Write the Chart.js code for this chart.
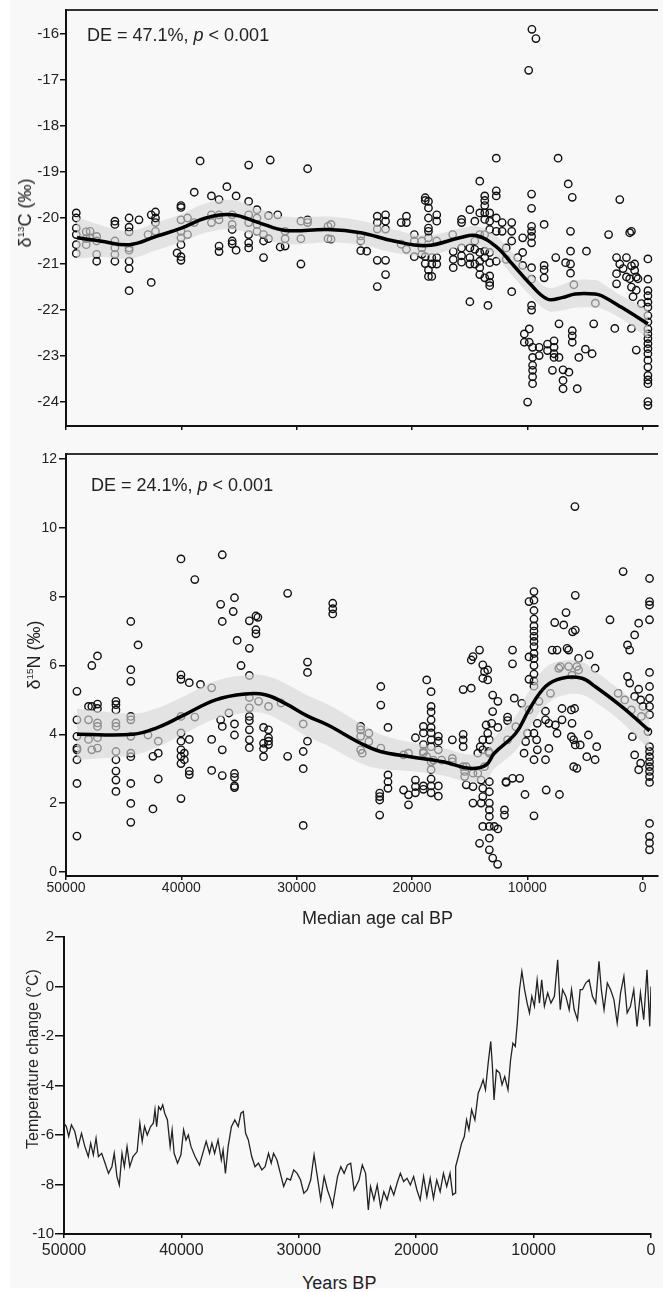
<!DOCTYPE html>
<html>
<head>
<meta charset="utf-8">
<script src="https://cdn.jsdelivr.net/npm/chart.js@4.4.1/dist/chart.umd.min.js"></script>
<style>
  body { margin: 0; width: 663px; height: 1292px; overflow: hidden; position: relative; background: #fff;
         font-family: "Liberation Sans", Arial, Helvetica, sans-serif; color: #222; }
  #bg { position: absolute; left: 10px; top: 0; width: 653px; height: 1288px; background: #f8f8f8; }
  .box { position: absolute; left: 0; width: 663px; }
  .txt { position: absolute; white-space: nowrap; line-height: 1; }
  .ytitle { position: absolute; white-space: nowrap; line-height: 1; transform: translate(-50%, -50%) rotate(-90deg); }
  sup { font-size: 0.55em; vertical-align: 0.7em; line-height: 0; }
</style>
</head>
<body>
<div id="bg"></div>
<div class="box" style="top:0;height:440px"><canvas id="c13"></canvas></div>
<div class="box" style="top:440px;height:460px"><canvas id="n15"></canvas></div>
<div class="box" style="top:920px;height:340px"><canvas id="temp"></canvas></div>

<div class="txt" style="left:87px;top:26px;font-size:18px">DE = 47.1%, <i>p</i> &lt; 0.001</div>
<div class="txt" style="left:91px;top:476px;font-size:18px">DE = 24.1%, <i>p</i> &lt; 0.001</div>
<div class="ytitle" style="left:25px;top:213px;font-size:18px">δ<sup>13</sup>C (‰)</div>
<div class="ytitle" style="left:34px;top:655px;font-size:18px">δ<sup>15</sup>N (‰)</div>
<div class="ytitle" style="left:33px;top:1059px;font-size:16px">Temperature change (°C)</div>
<div class="txt" style="left:302px;top:909px;font-size:18px">Median age cal BP</div>
<div class="txt" style="left:302px;top:1274px;font-size:18px">Years BP</div>

<script>
// 軸の目盛り
const xTicks = [50000, 40000, 30000, 20000, 10000, 0];
const c13Ticks = [-16, -17, -18, -19, -20, -21, -22, -23, -24];
const n15Ticks = [0, 2, 4, 6, 8, 10, 12];
const tempTicks = [2, 0, -2, -4, -6, -8, -10];

// δ13C: 年代ごとの測定値
const c13Age = [
  49110, 48250, 47910, 47340, 45760, 44530, 43670, 42890, 42610, 42240,
  40370, 40030, 39460, 38880, 38370, 37390, 36730, 36050, 35590, 35250,
  34160, 33440, 32870, 32440, 32290, 31640, 31430, 31000, 29630, 29050,
  27280, 27020, 24440, 23920, 23010, 22290, 20940, 20480, 19800, 19140,
  18850, 18570, 18280, 17850, 16470, 16420, 15700, 14980, 14550, 14120,
  13690, 13410, 13260, 12690, 12180, 11830, 11350, 10830, 10400, 9880,
  9600, 9250, 9630, 10260, 9830, 9540, 9970, 8540, 8970, 8250,
  7680, 7250, 6900, 7820, 6390, 5670, 7530, 7330, 6680, 6250,
  6100, 6450, 5960, 5530, 4960, 4380, 4870, 4240, 4100, 2950,
  2260, 2410, 1980, 1690, 1400, 1120, 970, 830, 690, 550,
  400, 110, -460,
];
const c13Val = [
  [-19.89, -20.0, -20.22, -20.36, -20.58, -20.77], [-20.3, -20.45, -20.58], [-20.29, -20.43],
  [-20.4, -20.5, -20.79, -20.94], [-20.07, -20.14, -20.5, -20.65, -20.79, -20.94],
  [-20.0, -20.2, -20.3, -20.65, -20.7, -20.94, -21.1, -21.58], [-20.04], [-20.36], [-19.93, -21.4],
  [-19.87, -20.0, -20.1, -20.29],

  [-20.76], [-19.73, -19.77, -20.04, -20.29, -20.43, -20.58, -20.84, -20.92], [-20.0, -20.36],
  [-19.44, -20.1], [-18.76], [-19.52, -19.93, -20.1], [-19.6, -19.93, -20.04, -20.61, -20.73],
  [-19.32], [-19.93, -20.14, -20.25, -20.5, -20.56], [-19.52, -20.7],

  [-18.85, -19.64, -19.93, -20.1, -20.36, -20.54, -20.65], [-19.82, -20.0, -20.14, -20.29],
  [-20.36, -20.5, -20.86], [-19.95, -20.45], [-18.74], [-19.93], [-20.63], [-20.29, -20.45, -20.61],
  [-20.07, -20.45, -21.0], [-18.93, -20.04, -20.1],

  [-20.18, -20.45], [-20.14, -20.46], [-20.39, -20.5, -20.71], [-20.72],
  [-19.96, -20.1, -20.24, -20.92, -21.49], [-19.93, -20.07, -20.24, -20.92, -21.23],
  [-20.1, -20.57], [-19.96, -20.1, -20.68], [-20.36, -20.5, -20.84], [-20.5, -20.65, -20.79],

  [-19.56, -19.62, -20.84, -20.99], [-19.64, -19.78, -20.0, -20.22, -20.29, -20.43, -21.13, -21.27],
  [-20.86, -21.0, -21.27], [-19.93, -20.07, -20.5, -20.86, -21.0], [-20.36], [-20.73, -20.9, -21.08],
  [-20.03, -20.1, -20.65, -20.82, -20.96], [-19.82, -20.65, -20.86, -21.0, -21.82],
  [-20.07, -20.5, -20.68, -21.0], [-19.2, -19.89, -20.36, -20.75, -20.94, -21.08, -21.23],

  [-19.52, -19.62, -19.73, -19.89, -20.03, -20.36, -20.72, -20.86, -21.3], [-21.9],
  [-19.89, -20.07, -20.25, -20.75, -20.97, -21.26, -21.4, -21.47],
  [-18.7, -19.41, -19.52, -20.0, -20.29, -20.94], [-20.1, -20.29], [-20.65, -20.9],
  [-20.1, -20.29, -20.5, -21.6], [-20.86], [-20.43, -20.75, -21.03], [-16.79],

  [-15.9], [-16.1], [-19.48, -19.79, -20.18, -20.29, -20.4, -20.54, -21.08, -21.33, -21.9, -22.0],
  [-22.52, -22.7], [-22.41, -22.7], [-22.81, -23.03, -23.2, -23.31, -23.45, -23.6], [-24.0],
  [-20.14, -21.03, -21.13, -21.3], [-22.81, -22.99], [-22.74, -22.88],

  [-22.67, -22.81, -22.95, -23.03], [-22.3, -23.03], [-23.3, -23.53, -23.71], [-23.31], [-23.35],
  [-23.71], [-20.86], [-18.7], [-20.97], [-20.29, -20.72, -21.0, -21.2],

  [-19.55, -22.45, -22.56, -22.7], [-19.26], [-21.45], [-23.03], [-22.85], [-22.95], [-20.72],
  [-22.3], [-21.85], [-20.36],

  [-20.86, -21.21, -21.43], [-22.4], [-19.6, -21.0], [-21.1], [-20.86, -21.28], [-20.32, -21.32],
  [-20.29, -21.04, -21.5, -22.4], [-21.71], [-21.0, -21.14], [-21.28, -21.57, -22.87],

  [-21.32], [-21.86],
  [-20.89, -21.33, -21.58, -21.69, -21.83, -21.94, -22.12, -22.26, -22.41, -22.52, -22.62,
   -22.73, -22.84, -22.95, -23.09, -23.24, -23.42, -23.52, -23.6, -23.99, -24.07],
];

// δ13C: 平滑曲線と信頼区間
const c13FitAge = [49050, 47050, 44470, 42180, 40000, 37880, 35590, 33300, 31000, 27300, 24440, 21570, 18710,
  15860, 14430, 12700, 11300, 9870, 8270, 6990, 5840, 4120, 3550, 1830, -460];
const c13Fit = [-20.43, -20.5, -20.58, -20.4, -20.22, -20.0, -19.93, -20.1, -20.27, -20.25, -20.32, -20.5, -20.6,
  -20.43, -20.38, -20.62, -21.0, -21.4, -21.76, -21.73, -21.65, -21.65, -21.69, -21.94, -22.3];
const c13Upper = [-19.98, -20.15, -20.28, -20.1, -19.92, -19.68, -19.61, -19.8, -19.97, -19.97, -20.06, -20.25, -20.38,
  -20.23, -20.18, -20.4, -20.75, -21.15, -21.51, -21.45, -21.35, -21.35, -21.41, -21.69, -21.98];
const c13Lower = [-20.88, -20.85, -20.88, -20.7, -20.52, -20.32, -20.25, -20.4, -20.57, -20.53, -20.58, -20.75, -20.82,
  -20.63, -20.58, -20.84, -21.25, -21.65, -22.01, -22.01, -21.95, -21.95, -21.97, -22.19, -22.62];

// δ15N: 年代ごとの測定値
const n15Age = [
  49050, 48050, 47760, 47270, 45670, 44380, 43750, 42890, 42460, 42000,
  40030, 39740, 39310, 38830, 38340, 37370, 36590, 36450, 35870, 35500,
  35390, 35160, 34820, 34100, 33530, 33360, 33300, 32870, 32440, 31350,
  30780, 29430, 29060, 26870, 24450, 24310, 23740, 22700, 22080, 22800,
  20730, 20300, 19700, 19010, 18720, 18340, 18140, 17710, 17430, 16500,
  15560, 15430, 15290, 14860, 14710, 14290, 14140, 14080, 14000, 13860,
  13710, 13570, 13430, 13340, 13290, 13090, 13000, 12860, 12570, 12550,
  11980, 11830, 11850, 11710, 11280, 11130, 10990, 10660, 10480, 10280,
  10200, 10140, 9990, 9850, 9420, 9190, 9130, 8990, 8420, 8360,
  8130, 7990, 7840, 7620, 7560, 7420, 7270, 7210, 7130, 6990,
  6840, 6640, 6550, 6410, 6180, 6130, 6120, 6070, 5980, 5900,
  5870, 5840, 5700, 5550, 5410, 4840, 4700, 4640, 4120, 3980,
  2830, 2120, 1690, 1550, 1310, 1120, 980, 890, 690, 340,
  170, 110, -30, -460, -600,
];
const n15Val = [
  [5.25, 4.42, 3.94, 3.6, 3.55, 3.26, 2.57, 1.04], [4.81, 4.42, 3.85], [6.0, 4.81, 3.55],
  [6.28, 4.88, 4.75, 4.33, 4.23, 3.9, 3.6], [4.96, 4.86, 4.71, 4.33, 4.23, 3.5, 3.26, 2.93, 2.67, 2.34],
  [7.28, 5.88, 5.54, 4.52, 4.42, 3.94, 3.45, 3.35, 2.57, 1.99, 1.44], [6.6], [3.98], [3.36, 1.83],
  [3.8, 3.45, 2.7],

  [9.1, 5.73, 5.6, 4.52, 4.04, 3.8, 3.55, 3.36, 3.15, 2.13], [3.45, 3.26], [5.5, 3.85, 2.93, 2.83],
  [8.5, 4.5], [5.45], [5.35, 3.85, 2.95], [7.78, 4.42], [9.22, 7.28, 4.23, 3.55, 2.8], [4.62], [7.57],

  [7.97, 4.3, 3.98, 2.86, 2.75, 2.5, 2.45], [6.73], [6.0], [7.3, 6.5, 5.71, 5.07, 4.77, 4.52, 4.4, 4.13, 3.84, 3.61],
  [7.44, 7.04, 6.92], [7.4], [4.96], [4.2, 3.74, 3.58, 3.35], [4.81, 4.13, 3.9, 3.8, 3.7], [4.91],

  [8.1, 3.36], [4.3, 3.5, 3.0, 1.35], [6.1, 5.8, 3.8], [7.81, 7.65, 7.5], [4.23, 4.13, 3.94, 3.55], [3.45],
  [4.03, 3.79], [5.39, 4.85, 3.6], [4.2, 2.82, 2.62, 2.43], [2.29, 2.19, 2.09, 1.65],

  [3.4, 2.38], [3.45, 2.24, 1.95], [3.9, 2.67, 2.48, 2.3], [4.23, 4.04, 3.7, 3.5, 3.45, 2.5, 2.4], [5.58, 3.35],
  [5.24, 4.81, 4.65, 4.42, 4.2, 4.04, 3.84, 3.64, 3.2, 2.97, 2.7, 2.5, 2.3], [3.25], [3.94, 3.8, 3.55, 2.5, 2.2],
  [3.25], [3.84, 3.3, 3.2],

  [5.3, 4.0, 3.84, 3.64, 3.06], [2.92, 2.77], [3.06, 2.53], [6.16, 5.34], [6.26, 2.87, 2.48, 2.0], [3.45, 2.87],
  [6.45, 0.83], [3.64], [2.67, 2.0], [6.02, 5.63, 3.84, 3.55, 2.43, 2.19, 1.32],

  [5.82, 3.06], [4.27], [5.87, 5.58, 4.03], [3.5], [3.84, 3.45, 2.62, 2.33, 2.0, 1.8, 1.61, 1.32, 0.98, 0.64],
  [4.32], [5.14, 4.66, 0.4], [1.32], [0.22], [4.96, 4.2, 1.25],

  [1.8, 1.65], [2.6], [2.62], [4.5, 4.4, 3.84], [6.45, 6.05, 2.72], [5.05], [4.22], [2.72], [4.9], [3.45],

  [2.25], [3.79], [4.03], [7.86, 6.25, 5.6, 4.71],
  [8.15, 7.9, 7.6, 7.35, 7.15, 7.0, 6.85, 6.7, 6.55, 6.35, 6.2, 6.0, 5.75, 5.55, 5.4, 4.03, 3.26, 1.63],
  [3.84], [4.32, 3.55], [4.96], [4.67, 4.42, 3.26], [2.38],

  [4.32, 3.59], [5.19], [6.45], [7.25], [4.27], [6.45, 4.03], [5.92], [2.25], [5.97], [4.75, 4.42],

  [7.18], [7.54], [6.5], [6.45, 5.97], [4.71, 3.93], [5.72], [4.32], [6.98], [3.84, 3.06], [4.75],

  [10.62], [8.04, 7.03, 3.69], [5.97, 3.01], [6.21, 5.87], [3.69], [3.35], [3.98], [6.31], [5.92, 3.26], [3.64],

  [7.33], [5.19], [8.73], [5.0], [6.6, 5.68], [6.45, 5.49], [4.71], [3.93], [6.89, 5.1, 3.4], [7.23, 5.31, 2.97],

  [5.0, 3.16], [4.52], [4.81], [4.08],
  [8.53, 7.86, 7.76, 7.33, 5.8, 5.39, 5.05, 4.81, 4.57, 3.64, 3.5, 3.35, 3.2, 3.06, 2.92, 2.77, 2.6, 1.41, 1.03, 0.84, 0.64],
];

// δ15N: 平滑曲線と信頼区間
const n15FitAge = [49050, 44180, 42180, 40000, 37020, 34440, 32720, 31000, 29000, 27300, 24450, 22740, 20150,
  17290, 15000, 13570, 12860, 11000, 9850, 8420, 6990, 5270, 4120, 1830, -600];
const n15Fit = [4.0, 4.0, 4.18, 4.52, 5.0, 5.17, 5.15, 4.9, 4.52, 4.27, 3.74, 3.5, 3.35,
  3.2, 3.01, 3.11, 3.45, 4.03, 4.71, 5.39, 5.63, 5.63, 5.39, 4.81, 4.1];
const n15Upper = [4.75, 4.6, 4.75, 5.07, 5.55, 5.72, 5.7, 5.48, 5.12, 4.87, 4.32, 4.0, 3.77,
  3.6, 3.41, 3.53, 3.9, 4.53, 5.26, 5.94, 6.13, 6.11, 5.84, 5.26, 4.65];
const n15Lower = [3.25, 3.4, 3.61, 3.97, 4.45, 4.62, 4.6, 4.32, 3.92, 3.67, 3.16, 3.0, 2.93,
  2.8, 2.61, 2.69, 3.0, 3.53, 4.16, 4.84, 5.13, 5.15, 4.94, 4.36, 3.55];

// 気温変化
const tempAge = [
  50000, 49800, 49600, 49370, 49080, 48800, 48510, 48220, 47930, 47730,
  47500, 47270, 47070, 46790, 46500, 46210, 45920, 45720, 45490, 45290,
  45060, 44860, 44630, 44400, 44120, 43770, 43540, 43340, 43140, 42910,
  42620, 42390, 42250, 42110, 41940, 41760, 41590, 41420, 41190, 40960,
  40790, 40620, 40330, 40040, 39810, 39610, 39410, 39180, 38840, 38460,
  38180, 37890, 37600, 37400, 37170, 36880, 36600, 36450, 36250, 36020,
  35740, 35450, 35160, 34930, 34730, 34530, 34300, 34010, 33730, 33440,
  33150, 32870, 32580, 32350, 32150, 31860, 31570, 31290, 31000, 30710,
  30430, 30140, 29850, 29570, 29280, 28990, 28700, 28420, 28130, 27840,
  27560, 27270, 27130, 26700, 26420, 26140, 25860, 25580, 25290, 24870,
  24590, 24310, 24080, 23890, 23600, 23320, 23040, 22760, 22480, 22190,
  21910, 21630, 21350, 21070, 20780, 20500, 20220, 19940, 19660, 19370,
  19090, 18810, 18530, 18250, 17960, 17680, 17400, 17120, 16890, 16690,
  16640, 16410, 16130, 15900, 15710, 15510, 15280, 15000, 14720, 14490,
  14300, 14100, 13870, 13650, 13510, 13370, 13170, 12890, 12690, 12460,
  12180, 11960, 11760, 11560, 11390, 11200, 11000, 10770, 10550, 10350,
  10150, 9930, 9700, 9500, 9310, 9080, 8800, 8520, 8230, 7950,
  7730, 7530, 7250, 6970, 6770, 6540, 6260, 6030, 5840, 5560,
  5270, 4990, 4710, 4430, 4230, 4000, 3720, 3440, 3160, 2880,
  2590, 2310, 2030, 1750, 1470, 1190, 900, 620, 340, 110, 0,
];
const tempValue = [
  -5.52, -5.66, -6.06, -5.59, -5.86, -6.47, -5.93, -6.47, -6.87, -6.33,
  -6.80, -6.13, -6.87, -6.74, -7.14, -7.55, -7.28, -6.74, -7.68, -8.02,
  -6.74, -7.28, -6.47, -7.28, -6.87, -6.67, -5.52, -6.26, -5.66, -6.0,
  -5.66, -5.52, -4.98, -5.66, -4.85, -4.98, -4.78, -5.12, -5.39, -6.47,
  -5.79, -6.74, -7.14, -6.80, -5.79, -6.20, -6.0, -6.47, -6.87, -7.21,
  -6.74, -6.26, -6.74, -6.33, -6.74, -6.20, -7.01, -6.60, -7.55, -6.47,
  -5.66, -5.39, -5.66, -5.12, -5.05, -5.93, -6.20, -6.87, -7.28, -7.14,
  -7.41, -7.28, -6.74, -7.14, -6.74, -7.01, -7.55, -8.08, -7.75, -7.82,
  -7.41, -7.55, -7.82, -8.35, -8.22, -7.82, -6.80, -7.68, -8.62, -7.68,
  -8.22, -8.62, -8.89, -7.68, -7.28, -7.55, -7.21, -7.14, -8.22, -7.82,
  -7.21, -7.55, -9.03, -8.08, -8.62, -8.02, -8.89, -8.29, -8.62, -8.08,
  -8.42, -7.95, -7.55, -7.88, -7.75, -8.02, -7.68, -8.22, -8.62, -7.68,
  -8.49, -7.75, -8.56, -7.82, -8.29, -7.55, -8.08, -7.55, -8.42, -8.35,
  -7.28, -6.87, -6.33, -6.06, -5.39, -5.79, -4.98, -5.39, -4.31, -4.04,
  -3.77, -4.17, -3.10, -2.22, -3.23, -4.58, -3.37, -3.50, -3.97, -3.64,
  -4.17, -2.96, -2.29, -2.42, -1.48, -0.13, 0.61, -0.13, -0.67, -1.07,
  -0.40, -0.80, 0.27, -0.67, 0.27, -0.80, -0.26, -0.67, -0.40, 1.08,
  -0.94, -0.13, -0.40, -0.94, -0.13, -0.94, -1.34, -0.13, -0.13, 0.14,
  0.27, -0.40, -0.67, 1.02, -0.13, -0.94, 0.14, -0.13, -0.53, -1.48,
  -0.26, 0.41, -1.07, -0.80, -0.13, -1.61, -0.26, -1.34, 0.68, -1.61, 0.0,
];

Chart.defaults.font.family = '"Liberation Sans", Arial, Helvetica, sans-serif';
Chart.defaults.color = "#222";
Chart.defaults.animation = false;
Chart.defaults.plugins.legend.display = false;
Chart.defaults.plugins.tooltip.enabled = false;

const columnsToPoints = (ages, cols) => ages.flatMap((a, i) => cols[i].map((v) => ({ x: a, y: v })));
const pairs = (xs, ys) => xs.map((x, i) => ({ x: x, y: ys[i] }));
const fixTicks = (list) => (scale) => {
  scale.ticks = list.map((v) => ({ value: v }));
};
// 桁区切りのカンマを付けない
const plainLabel = (value) => String(value);

const bottomAxis = (opt) => ({
  type: "linear",
  reverse: true,
  min: opt.min,
  max: 50000,
  afterBuildTicks: fixTicks(xTicks),
  afterFit: (s) => {
    s.height = opt.height;
  },
  ticks: {
    display: opt.labels,
    font: { size: opt.size },
    maxRotation: 0,
    padding: opt.pad,
    autoSkip: false,
    callback: plainLabel,
  },
  grid: { drawOnChartArea: false, tickLength: 4, color: "#111", lineWidth: 1.5 },
  border: { color: "#111", width: 2 },
});
const topFrame = {
  type: "linear",
  position: "top",
  reverse: true,
  min: -1300,
  max: 50000,
  ticks: { display: false },
  grid: { display: false },
  border: { color: "#333", width: 2 },
  afterFit: (s) => {
    s.height = 0;
  },
};
const leftAxis = (opt) => ({
  min: opt.min,
  max: opt.max,
  afterBuildTicks: fixTicks(opt.ticks),
  afterFit: (s) => {
    s.width = opt.width;
  },
  ticks: { font: { size: opt.size }, padding: opt.pad, color: "#222", callback: plainLabel },
  grid: { drawOnChartArea: false, tickLength: opt.tick, color: "#111", lineWidth: 1.5 },
  border: { color: "#111", width: 2 },
});

const scatterSets = (points, fitAge, fit, upper, lower) => [
  {
    type: "line",
    data: pairs(fitAge, fit),
    borderColor: "#000",
    borderWidth: 3.5,
    pointRadius: 0,
    tension: 0.4,
    fill: false,
    order: 1,
  },
  {
    type: "line",
    data: pairs(fitAge, upper),
    borderWidth: 0,
    pointRadius: 0,
    tension: 0.4,
    fill: false,
    order: 2,
  },
  {
    type: "line",
    data: pairs(fitAge, lower),
    borderWidth: 0,
    pointRadius: 0,
    tension: 0.4,
    fill: "-1",
    backgroundColor: "rgba(214, 214, 214, 0.64)",
    order: 2,
  },
  {
    type: "scatter",
    data: points,
    pointRadius: 3.7,
    borderWidth: 1.4,
    borderColor: "#111",
    backgroundColor: "rgba(0,0,0,0)",
    order: 3,
  },
];

new Chart(document.getElementById("c13"), {
  type: "scatter",
  data: { datasets: scatterSets(columnsToPoints(c13Age, c13Val), c13FitAge, c13Fit, c13Upper, c13Lower) },
  options: {
    responsive: true,
    maintainAspectRatio: false,
    layout: { padding: { top: 8, left: 0, right: 0, bottom: 0 } },
    scales: {
      x: bottomAxis({ min: -1300, labels: false, size: 14, pad: 0, height: 14 }),
      x2: topFrame,
      y: leftAxis({ min: -24.52, max: -15.48, ticks: c13Ticks, width: 66, size: 15, pad: 1, tick: 6 }),
    },
  },
});

new Chart(document.getElementById("n15"), {
  type: "scatter",
  data: { datasets: scatterSets(columnsToPoints(n15Age, n15Val), n15FitAge, n15Fit, n15Upper, n15Lower) },
  options: {
    responsive: true,
    maintainAspectRatio: false,
    layout: { padding: { top: 14, left: 0, right: 0, bottom: 0 } },
    scales: {
      x: bottomAxis({ min: -1300, labels: true, size: 14, pad: 0, height: 24 }),
      x2: topFrame,
      y: leftAxis({ min: -0.12, max: 12.15, ticks: n15Ticks, width: 66, size: 14, pad: 2, tick: 7 }),
    },
  },
});

new Chart(document.getElementById("temp"), {
  type: "line",
  data: {
    datasets: [
      {
        data: pairs(tempAge, tempValue),
        borderColor: "#222",
        borderWidth: 1.3,
        pointRadius: 0,
        tension: 0,
        fill: false,
      },
    ],
  },
  options: {
    responsive: true,
    maintainAspectRatio: false,
    layout: { padding: { top: 17, left: 0, right: 12, bottom: 0 } },
    scales: {
      x: bottomAxis({ min: 0, labels: true, size: 16, pad: 3, height: 26 }),
      y: leftAxis({ min: -10, max: 2, ticks: tempTicks, width: 64, size: 15, pad: 1, tick: 9 }),
    },
  },
});
</script>
</body>
</html>
